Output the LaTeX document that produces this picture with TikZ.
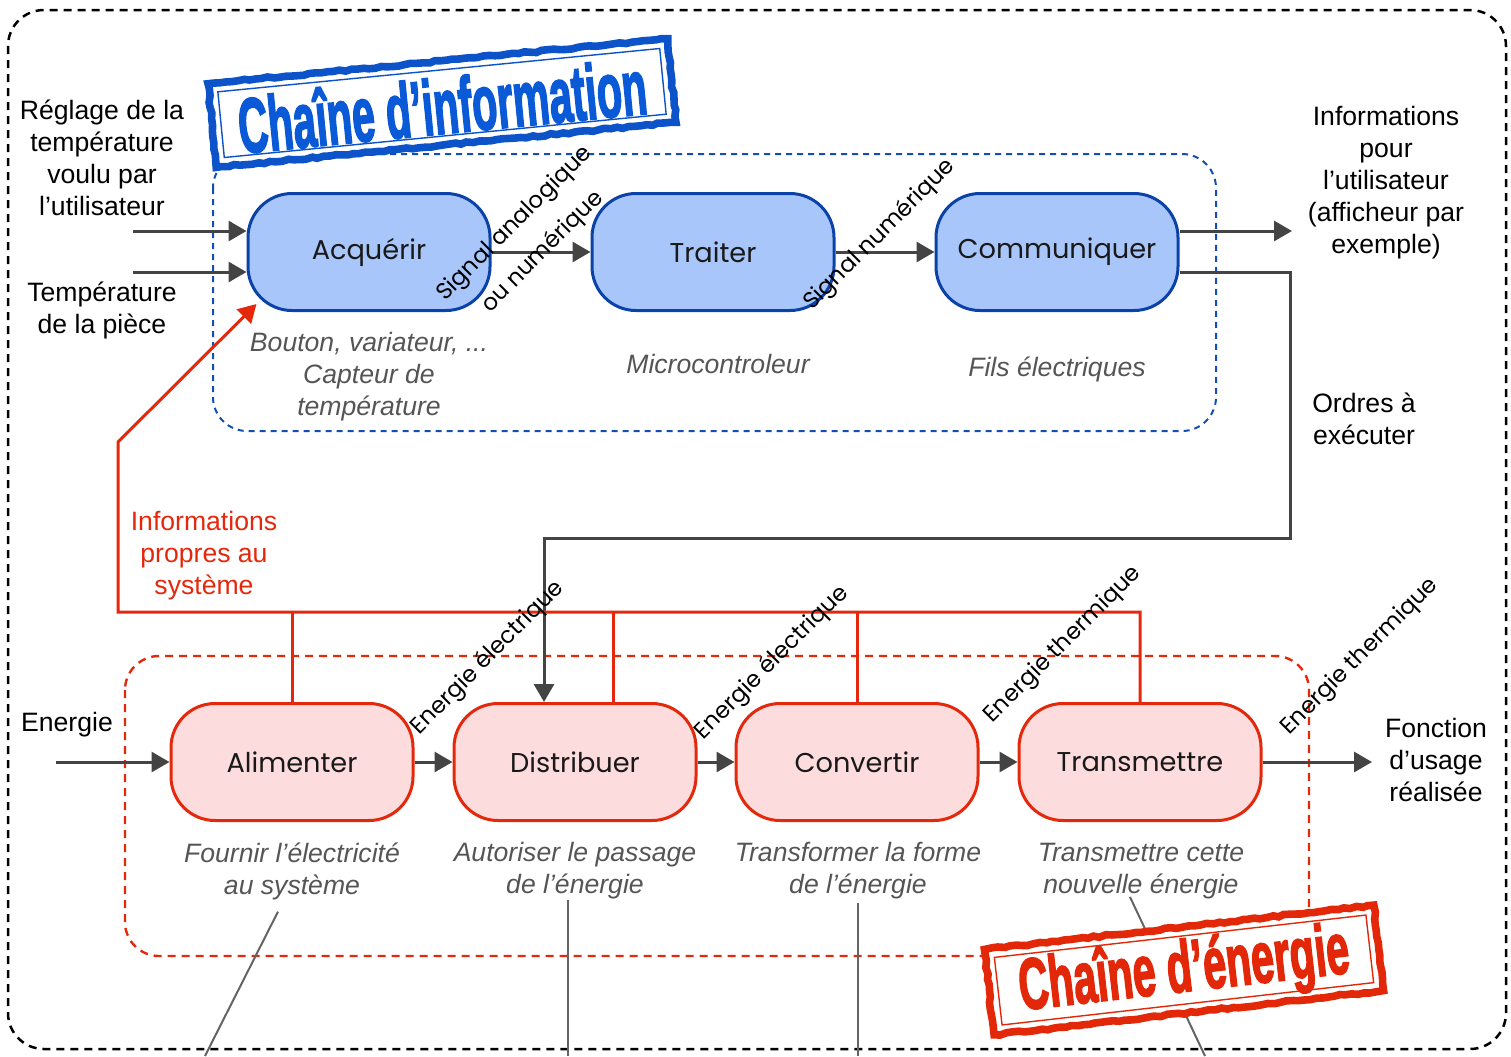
\documentclass[tikz,border=0pt]{standalone}
\usepackage{fontspec}
\usepackage{graphicx}
\setmainfont{Liberation Sans}
\newfontfamily\geo{Poppins}
\newfontface\stampfont{Liberation Sans Bold}[FakeBold=2.8]
\usetikzlibrary{arrows.meta,calc,decorations.pathmorphing}

\definecolor{bluefill}{RGB}{168,198,250}
\definecolor{bluedge}{RGB}{10,66,168}
\definecolor{bluedash}{RGB}{18,78,182}
\definecolor{stampblue}{RGB}{12,82,200}
\definecolor{stampbluetxt}{RGB}{10,90,215}
\definecolor{redfill}{RGB}{252,220,220}
\definecolor{rededge}{RGB}{228,40,12}
\definecolor{stampred}{RGB}{226,40,8}
\definecolor{arrowgray}{RGB}{68,68,68}
\definecolor{leadgray}{RGB}{100,100,100}
\definecolor{subgray}{RGB}{85,85,85}

\begin{document}
\begin{tikzpicture}[x=0.5pt,y=-0.5pt,
  blk/.style={rounded corners=22pt, minimum width=121pt, minimum height=58.5pt,
    line width=1.5pt, font=\geo\fontsize{13.6}{15}\selectfont, text=black!90},
  infobox/.style={blk, draw=bluedge, fill=bluefill},
  enbox/.style={blk, draw=rededge, fill=redfill},
  flow/.style={draw=arrowgray, line width=1.5pt, -{Triangle[length=9pt,width=10pt]}},
  feed/.style={draw=rededge, line width=1.5pt},
  lead/.style={draw=leadgray, line width=1pt},
  note/.style={align=center, font=\fontsize{13.3}{16}\selectfont},
  sub/.style={align=center, font=\itshape\fontsize{13.3}{16}\selectfont, text=subgray},
  diag/.style={rotate=45, align=center, font=\geo\fontsize{11.5}{20}\selectfont},
  stamptxt/.style={inner sep=0pt, font=\stampfont}
]
\useasboundingbox (0,0) rectangle (1511,1056);

% frames
\draw[line width=1.25pt, dash pattern=on 4pt off 3pt, rounded corners=18pt]
  (8,10) rectangle (1506,1049);
\draw[bluedash, line width=1pt, dash pattern=on 3pt off 2.5pt, rounded corners=17pt]
  (213,154) rectangle (1216,431);
\draw[rededge, line width=1.2pt, dash pattern=on 4pt off 3pt, rounded corners=17pt]
  (125,656) rectangle (1309,956);

% information chain
\node[infobox] (acq)  at (369,252)  {Acquérir};
\node[infobox] (tra)  at (713,252)  {Traiter};
\node[infobox] (comm) at (1057,252) {Communiquer};

% energy chain
\node[enbox] (alim)  at (292,762)  {Alimenter};
\node[enbox] (dist)  at (575,762)  {Distribuer};
\node[enbox] (conv)  at (857,762)  {Convertir};
\node[enbox] (trans) at (1140,762) {Transmettre};

% descriptions under the blocks
\node[sub] (acqsub)   at (369,377)  {Bouton, variateur, ...\\Capteur de\\température};
\node[sub] (trasub)   at (718,364)  {Microcontroleur};
\node[sub] (commsub)  at (1057,369) {Fils électriques};
\node[sub] (alimsub)  at (292,871)  {Fournir l’électricité\\au système};
\node[sub] (distsub)  at (575,871)  {Autoriser le passage\\de l’énergie};
\node[sub] (convsub)  at (858,871)  {Transformer la forme\\de l’énergie};
\node[sub] (transsub) at (1141,871) {Transmettre cette\\nouvelle énergie};

% outside texts
\node[note] (reglage) at (102,158) {Réglage de la\\température\\voulu par\\l’utilisateur};
\node[note] (temp)    at (102,310) {Température\\de la pièce};
\node[note] (infout)  at (1386,183) {Informations\\pour\\l’utilisateur\\(afficheur par\\exemple)};
\node[note] (ordres)  at (1364,419) {Ordres à\\exécuter};
\node[note, text=rededge] (propres) at (204,556) {Informations\\propres au\\système};
\node[note] (energie) at (67,725) {Energie};
\node[note] (fonction) at (1436,760) {Fonction\\d’usage\\réalisée};

% information flow
\coordinate (in1) at (133,231);
\coordinate (in2) at (133,272);
\coordinate (out1) at (1292,231);
\coordinate (ordA) at (1290,272);
\coordinate (ordB) at (544,538);
\draw[flow] (in1) -- (in1 -| acq.west);
\draw[flow] (in2) -- (in2 -| acq.west);
\draw[flow] (acq.east) -- (tra.west);
\draw[flow] (tra.east) -- (comm.west);
\draw[flow] (out1 -| comm.east) -- (out1);
\draw[flow] (ordA -| comm.east) -- (ordA) |- (ordB) -- (ordB |- dist.north);

% energy flow
\coordinate (ein) at (56,762);
\coordinate (eout) at (1372,762);
\draw[flow] (ein) -- (alim.west);
\draw[flow] (alim.east) -- (dist.west);
\draw[flow] (dist.east) -- (conv.west);
\draw[flow] (conv.east) -- (trans.west);
\draw[flow] (trans.east) -- (eout);

% feedback of the system state
\coordinate (fbus) at (118,612);
\coordinate (fbend) at (118,442);
\draw[feed, -{Triangle[length=9pt,width=10pt]}]
  (trans.north) |- (fbus) -- (fbend) -- ($(acq.south west)+(10,-8)$);
\draw[feed] (alim.north) -- (alim.north |- fbus);
\draw[feed] ($(dist.north)+(38,0)$) -- ($(dist.north |- fbus)+(38,0)$);
\draw[feed] (conv.north) -- (conv.north |- fbus);

% leader lines
\coordinate (la) at (205,1056);
\coordinate (lb) at (568,1056);
\coordinate (lc) at (858,1056);
\coordinate (ld) at (1205,1056);
\draw[lead] ($(alimsub.south)+(-14,5)$) -- (la);
\draw[lead] ($(distsub.south)+(-7,-6)$) -- (lb);
\draw[lead] ($(convsub.south)+(0,-3)$) -- (lc);
\draw[lead] ($(transsub.south)+(-11,-9)$) -- (ld);

% rotated flow labels
\node[diag] (sig1) at (529,238) {Signal analogique\\ou numérique};
\node[diag] (sig2) at (880,235) {Signal numérique};
\node[diag] (ee1)  at (488,658) {Energie électrique};
\node[diag] (ee2)  at (772,663) {Energie électrique};
\node[diag] (et1)  at (1063,645) {Energie thermique};
\node[diag] (et2)  at (1360,657) {Energie thermique};

% stamp: information chain
\begin{scope}[shift={(442,103)}, rotate=5.6]
  \draw[stampblue, line width=3.8pt, fill=white, decorate,
    decoration={random steps, segment length=3pt, amplitude=0.5pt}]
    (-231,-42) rectangle (231,42);
  \draw[stampblue, line width=0.7pt] (-222,-33) rectangle (222,33);
  \node[stamptxt, rotate=5.6, text=stampbluetxt] (infotitle) at (0,2)
    {\resizebox{205pt}{29pt}{Chaîne d’information}};
\end{scope}

% stamp: energy chain
\begin{scope}[shift={(1184,970)}, rotate=6.5]
  \draw[stampred, line width=3.8pt, fill=white, decorate,
    decoration={random steps, segment length=3pt, amplitude=0.5pt}]
    (-196,-43) rectangle (196,43);
  \draw[stampred, line width=0.7pt] (-187,-34) rectangle (187,34);
  \node[stamptxt, rotate=6.5, text=stampred] (entitle) at (0,2)
    {\resizebox{166pt}{27pt}{Chaîne d’énergie}};
\end{scope}
\end{tikzpicture}
\end{document}
